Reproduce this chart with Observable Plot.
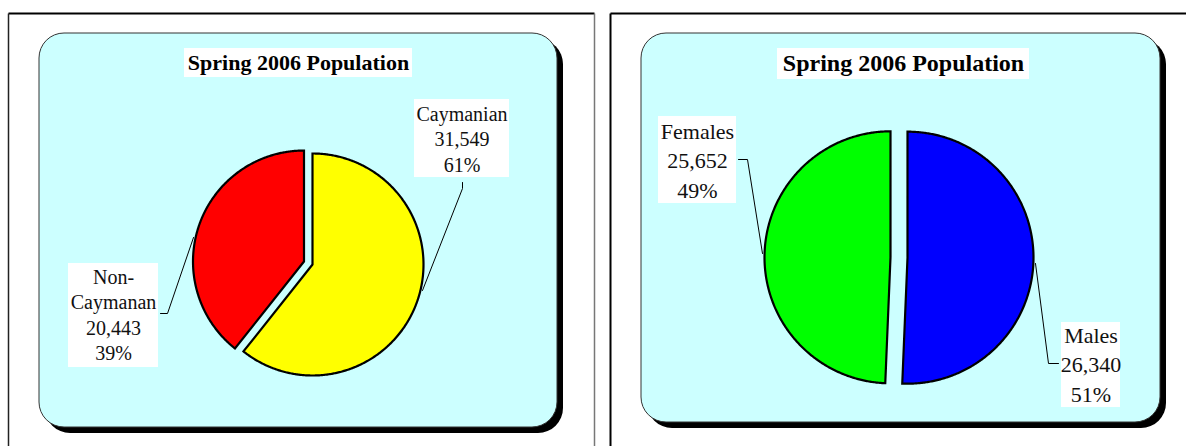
<!DOCTYPE html>
<html><head><meta charset="utf-8">
<script src="https://cdn.jsdelivr.net/npm/d3@7"></script>
<script src="https://cdn.jsdelivr.net/npm/@observablehq/plot@0.6"></script>
<style>html,body{margin:0;padding:0;background:#fff;overflow:hidden}</style>
</head><body><div id="chart"></div>
<script>
// ---- data ----
const chartTitle = "Spring 2006 Population";
const statusCategories = ["Caymanian", "Non-\nCaymanan"];
const statusValues = [31549, 20443];
const statusColors = ["#ffff00", "#ff0000"];
const sexCategories = ["Males", "Females"];
const sexValues = [26340, 25652];
const sexColors = ["#0000ff", "#00ff00"];

// ---- layout ----
const W = 1186, H = 446;
const fmtNum = d3.format(",");
const panels = [
  {
    cats: statusCategories, vals: statusValues, colors: statusColors,
    frame: [{x1: 8, y1: 13, x2: 594, y2: 13, s: "#000", w: 2},
            {x1: 8, y1: 13, x2: 8, y2: H + 5, s: "#222", w: 1.5},
            {x1: 594, y1: 13, x2: 594, y2: H + 5, s: "#777", w: 1.5}],
    box: {x1: 39, x2: 557, y1: 33, y2: 427},
    title: {x: 298, y: 62, x1: 184, x2: 412, y1: 48, y2: 77, size: 22, ls: "0.3px"},
    pie: {cx: 312, cy: 264, r: 111, explode: [0, 9]},
    font: 20, lh: 1.275,
    labels: [
      {x: 461.5, y: 137.5, box: [414, 509, 99, 177], leader: [[462, 182], [462, 188], [422, 290]]},
      {x: 113, y: 313.5, box: [68, 158, 263, 367], leader: [[160, 313], [167, 313], [193, 237]]}
    ]
  },
  {
    cats: sexCategories, vals: sexValues, colors: sexColors,
    frame: [{x1: 610, y1: 13, x2: W + 5, y2: 13, s: "#000", w: 2},
            {x1: 610, y1: 13, x2: 610, y2: H + 5, s: "#000", w: 2}],
    box: {x1: 641, x2: 1160, y1: 33, y2: 422},
    title: {x: 903, y: 63, x1: 777, x2: 1029, y1: 48, y2: 79, size: 24, ls: "0.5px"},
    pie: {cx: 898.5, cy: 257, r: 126, explode: [8.5, 8.5]},
    font: 22, lh: 1.34,
    labels: [
      {x: 1090.5, y: 362.5, box: [1061, 1120, 322, 407], leader: [[1058, 363], [1048, 363], [1035, 263]]},
      {x: 697, y: 158.5, box: [658, 736, 116, 203], leader: [[738, 159], [747, 159], [762, 253]]}
    ]
  }
];

function slicePolygon(cx, cy, r, a0, a1, off) {
  const mid = (a0 + a1) / 2;
  const ox = cx + off * Math.sin(mid), oy = cy - off * Math.cos(mid);
  const pts = [[ox, oy]];
  const n = Math.max(2, Math.ceil((a1 - a0) / (Math.PI / 360)));
  for (let i = 0; i <= n; i++) {
    const a = a0 + (a1 - a0) * i / n;
    pts.push([ox + r * Math.sin(a), oy - r * Math.cos(a)]);
  }
  pts.push([ox, oy]);
  return pts;
}

const marks = [];
panels.forEach((p, pi) => {
  const total = d3.sum(p.vals);
  const arcs = d3.pie().sort(null).value(d => d)(p.vals);
  // outer frame
  marks.push(Plot.link(p.frame, {x1: "x1", y1: "y1", x2: "x2", y2: "y2", stroke: "s", strokeWidth: d => d.w}));
  // shadow + cyan box
  marks.push(Plot.rect([p.box], {x1: d => d.x1 + 6, x2: d => d.x2 + 6, y1: d => d.y1 + 6, y2: d => d.y2 + 6, fill: "#000", rx: 25}));
  marks.push(Plot.rect([p.box], {x1: "x1", x2: "x2", y1: "y1", y2: "y2", fill: "#ccffff", stroke: "#333", strokeWidth: 1, rx: 25}));
  // title
  marks.push(Plot.rect([p.title], {x1: "x1", x2: "x2", y1: "y1", y2: "y2", fill: "#fff"}));
  marks.push(Plot.text([chartTitle], {x: () => p.title.x, y: () => p.title.y, text: d => d, fontFamily: "Liberation Serif", fontWeight: "bold", fontSize: p.title.size, fill: "#000", ariaLabel: "title" + pi}));
  // slices
  arcs.forEach((a, i) => {
    const poly = slicePolygon(p.pie.cx, p.pie.cy, p.pie.r, a.startAngle, a.endAngle, p.pie.explode[i]);
    marks.push(Plot.line(poly, {x: d => d[0], y: d => d[1], fill: p.colors[i], stroke: "#000", strokeWidth: 2.2, strokeLinejoin: "miter", strokeMiterlimit: 4}));
  });
  // labels
  p.labels.forEach((l, i) => {
    marks.push(Plot.line(l.leader, {x: d => d[0], y: d => d[1], stroke: "#000", strokeWidth: 1, strokeLinejoin: "miter"}));
    marks.push(Plot.rect([l.box], {x1: d => d[0], x2: d => d[1], y1: d => d[2], y2: d => d[3], fill: "#fff"}));
    const txt = `${p.cats[i]}\n${fmtNum(p.vals[i])}\n${Math.round(100 * p.vals[i] / total)}%`;
    marks.push(Plot.text([txt], {x: () => l.x, y: () => l.y, text: d => d, fontFamily: "Liberation Serif", fontSize: p.font, lineHeight: p.lh, fill: "#111"}));
  });
});

const svg = Plot.plot({
  width: W, height: H, margin: 0,
  x: {domain: [0, W], range: [0, W], axis: null},
  y: {domain: [0, H], range: [0, H], axis: null},
  color: {type: "identity"},
  style: {background: "#fff", overflow: "hidden"},
  marks
});
panels.forEach((p, pi) => {
  d3.select(svg).selectAll(`g[aria-label="title${pi}"] text`).style("letter-spacing", p.title.ls);
});
document.getElementById("chart").appendChild(svg);
</script></body></html>
